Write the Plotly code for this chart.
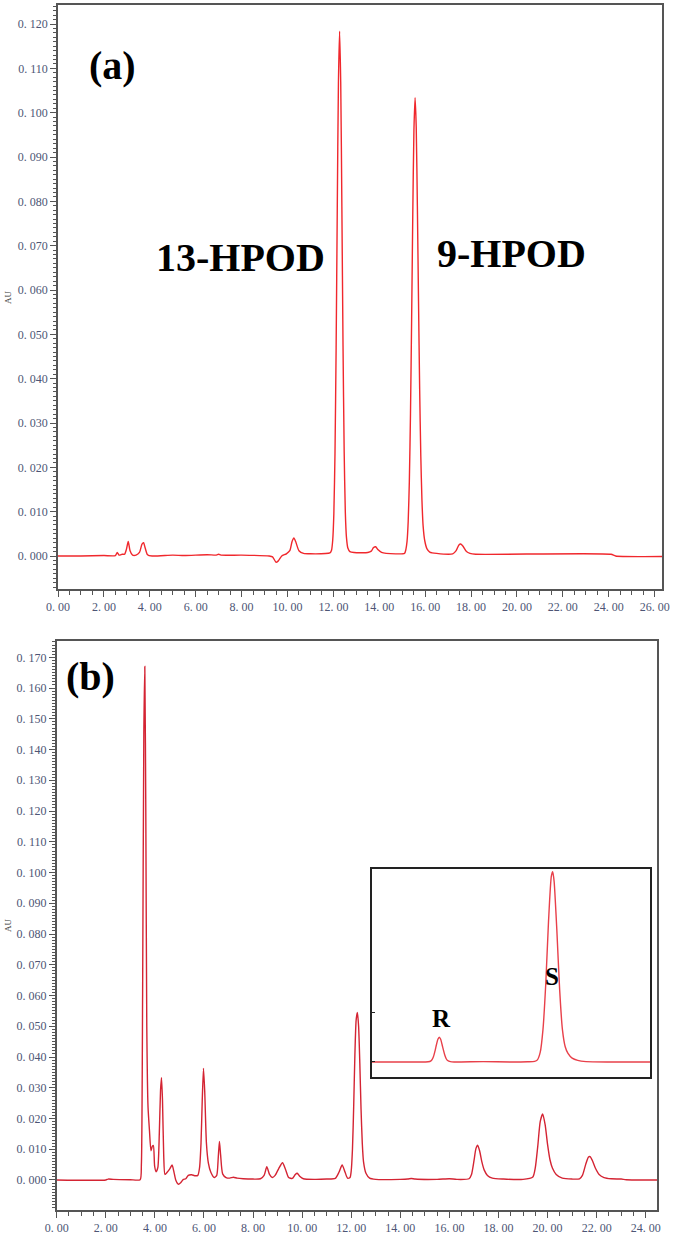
import plotly.graph_objects as go

# (a) HPOD isomer chromatogram: retention time (min) vs absorbance (AU)
time_a = [0.0, 1.0, 2.0, 2.5, 2.58, 2.66, 2.8, 2.9, 2.98, 3.06, 3.14, 3.25, 3.4, 3.55, 3.66, 3.73,
          3.8, 3.9, 4.1, 5.0, 5.5, 6.5, 6.9, 7.0, 7.1, 8.0, 9.2, 9.35, 9.5, 9.6, 9.75, 9.95,
          10.1, 10.2, 10.28, 10.36, 10.5, 10.7, 11.0, 11.85, 11.92, 11.97, 12.02, 12.07, 12.12,
          12.17, 12.22, 12.27, 12.32, 12.37, 12.42, 12.47, 12.52, 12.57, 12.63, 12.72, 12.9,
          13.5, 13.65, 13.75, 13.84, 13.95, 14.1, 14.3, 15.1, 15.16, 15.21, 15.26, 15.31, 15.36,
          15.41, 15.46, 15.51, 15.56, 15.61, 15.66, 15.71, 15.76, 15.81, 15.86, 15.91, 15.98,
          16.08, 16.2, 16.5, 17.2, 17.35, 17.47, 17.55, 17.65, 17.8, 17.95, 18.2, 24.1, 24.3, 26.32]
au_a = [0.0, 0.0, 0.0001, 0.0001, 0.0008, 0.0002, 0.0004, 0.0004, 0.0015, 0.0033, 0.0012, 0.0002,
        0.0002, 0.0008, 0.0027, 0.003, 0.0018, 0.0003, 0.0, 0.0002, 0.0001, 0.0003, 0.0002, 0.0004,
        0.0002, 0.0002, 0.0, -0.0002, -0.0014, -0.0011, 0.0, 0.0005, 0.0012, 0.0033, 0.0041, 0.0032,
        0.0012, 0.0006, 0.0005, 0.0007, 0.0013, 0.0035, 0.0095, 0.0231, 0.047, 0.0785, 0.1067,
        0.1184, 0.1069, 0.0788, 0.0475, 0.0236, 0.01, 0.0042, 0.0018, 0.001, 0.0008, 0.0008, 0.0011,
        0.0019, 0.0021, 0.0014, 0.0008, 0.0006, 0.0006, 0.0015, 0.0033, 0.0078, 0.0168, 0.0321,
        0.0534, 0.0771, 0.0961, 0.1034, 0.0968, 0.079, 0.0575, 0.0375, 0.0225, 0.0125, 0.0068,
        0.0035, 0.0016, 0.0009, 0.0006, 0.0005, 0.0012, 0.0025, 0.0027, 0.0022, 0.001, 0.0006,
        0.0004, 0.0004, 0.0, -0.0001]

# (b) product chromatogram
time_b = [0.0, 2.0, 2.1, 2.3, 3.0, 3.4, 3.45, 3.5, 3.55, 3.59, 3.63, 3.67, 3.72, 3.78, 3.84, 3.9,
          3.94, 3.99, 4.05, 4.12, 4.18, 4.23, 4.27, 4.31, 4.36, 4.41, 4.5, 4.6, 4.7, 4.78, 4.85,
          4.96, 5.06, 5.16, 5.26, 5.36, 5.5, 5.62, 5.75, 5.82, 5.88, 5.93, 5.98, 6.03, 6.1, 6.18,
          6.28, 6.42, 6.52, 6.58, 6.63, 6.68, 6.76, 6.9, 7.05, 7.2, 7.35, 7.6, 8.0, 8.3, 8.45,
          8.56, 8.67, 8.78, 8.9, 9.05, 9.2, 9.32, 9.45, 9.6, 9.72, 9.8, 9.9, 10.05, 10.5, 11.0,
          11.35, 11.5, 11.63, 11.75, 11.85, 11.95, 12.0, 12.05, 12.1, 12.15, 12.2, 12.25, 12.3,
          12.35, 12.4, 12.45, 12.5, 12.6, 12.75, 13.0, 14.0, 14.3, 14.45, 14.6, 15.5, 16.0, 16.3,
          16.8, 16.9, 17.0, 17.08, 17.15, 17.23, 17.32, 17.42, 17.55, 17.75, 18.2, 19.0, 19.4,
          19.5, 19.6, 19.7, 19.8, 19.9, 20.0, 20.1, 20.2, 20.35, 20.6, 21.0, 21.3, 21.42, 21.55,
          21.66, 21.73, 21.82, 21.95, 22.1, 22.3, 22.6, 23.0, 23.2, 24.0, 24.47]
au_b = [0.0, 0.0, 0.0003, 0.0002, 0.0001, 0.0001, 0.005, 0.06, 0.145, 0.167, 0.12, 0.05, 0.024,
        0.016, 0.0095, 0.011, 0.0112, 0.0045, 0.0027, 0.004, 0.015, 0.029, 0.0333, 0.026, 0.008,
        0.0018, 0.0025, 0.0035, 0.0049, 0.0025, 0.0, -0.0014, -0.0008, 0.0002, 0.0004, 0.0015,
        0.0017, 0.0014, 0.0015, 0.004, 0.012, 0.026, 0.0363, 0.029, 0.012, 0.0055, 0.0025, 0.0008,
        0.0015, 0.007, 0.0125, 0.008, 0.002, 0.0008, 0.0006, 0.0009, 0.0006, 0.0004, 0.0003,
        0.0004, 0.0015, 0.0043, 0.0018, 0.0008, 0.0015, 0.0038, 0.0056, 0.0035, 0.0008, 0.0005,
        0.0018, 0.0022, 0.0012, 0.0004, 0.0002, 0.0003, 0.0005, 0.0025, 0.0049, 0.0025, 0.0006,
        0.0008, 0.003, 0.01, 0.024, 0.041, 0.052, 0.0545, 0.05, 0.038, 0.023, 0.012, 0.006,
        0.0022, 0.0006, 0.0002, 0.0002, 0.0003, 0.0005, 0.0003, 0.0002, 0.0004, 0.0002, 0.0004,
        0.0018, 0.0062, 0.0102, 0.0113, 0.0095, 0.006, 0.0032, 0.0015, 0.0006, 0.0003, 0.0002,
        0.001, 0.004, 0.011, 0.019, 0.0215, 0.018, 0.0115, 0.0065, 0.0038, 0.0018, 0.0006, 0.0003,
        0.0004, 0.0015, 0.005, 0.0074, 0.0076, 0.0064, 0.0038, 0.0018, 0.0008, 0.0004, 0.0003,
        0.0001, 0.0, 0.0]

# inset: chiral separation of R / S (relative units)
time_inset = [0.0, 1.5, 2.02, 2.12, 2.17, 2.22, 2.27, 2.32, 2.37, 2.42, 2.47, 2.52, 2.57, 2.62,
              2.67, 2.72, 2.82, 2.95, 4.0, 5.0, 5.6, 5.85, 5.95, 6.05, 6.15, 6.25, 6.35, 6.45,
              6.5, 6.55, 6.65, 6.75, 6.85, 6.95, 7.05, 7.2, 7.4, 7.7, 8.5, 10.0]
signal_inset = [0.0, 0.0, 0.001, 0.006, 0.015, 0.032, 0.06, 0.092, 0.119, 0.13, 0.119, 0.092,
                0.062, 0.035, 0.017, 0.008, 0.002, 0.0, 0.002, 0.0, 0.001, 0.003, 0.011, 0.05,
                0.17, 0.41, 0.74, 0.975, 1.0, 0.95, 0.69, 0.38, 0.17, 0.08, 0.045, 0.02, 0.008,
                0.002, 0.0, 0.0]

yticks_a = [0.0, 0.01, 0.02, 0.03, 0.04, 0.05, 0.06, 0.07, 0.08, 0.09, 0.1, 0.11, 0.12]
ylabels_a = ["0. 000", "0. 010", "0. 020", "0. 030", "0. 040", "0. 050", "0. 060",
             "0. 070", "0. 080", "0. 090", "0. 100", "0. 110", "0. 120"]
yticks_b = [0.0, 0.01, 0.02, 0.03, 0.04, 0.05, 0.06, 0.07, 0.08, 0.09, 0.1, 0.11, 0.12,
            0.13, 0.14, 0.15, 0.16, 0.17]
ylabels_b = ["0. 000", "0. 010", "0. 020", "0. 030", "0. 040", "0. 050", "0. 060",
             "0. 070", "0. 080", "0. 090", "0. 100", "0. 110", "0. 120", "0. 130",
             "0. 140", "0. 150", "0. 160", "0. 170"]
xticks_a = [0, 2, 4, 6, 8, 10, 12, 14, 16, 18, 20, 22, 24, 26]
xlabels_a = ["0. 00", "2. 00", "4. 00", "6. 00", "8. 00", "10. 00", "12. 00", "14. 00",
             "16. 00", "18. 00", "20. 00", "22. 00", "24. 00", "26. 00"]
xticks_b = [0, 2, 4, 6, 8, 10, 12, 14, 16, 18, 20, 22, 24]
xlabels_b = ["0. 00", "2. 00", "4. 00", "6. 00", "8. 00", "10. 00", "12. 00", "14. 00",
             "16. 00", "18. 00", "20. 00", "22. 00", "24. 00"]

W, H = 675, 1234
tick_font = dict(family="Liberation Serif", size=12, color="#4d5575")
axis_col = "#555555"

fig = go.Figure()
fig.add_trace(go.Scatter(x=time_a, y=au_a, mode="lines", xaxis="x", yaxis="y",
                         line=dict(color="#f0282d", width=1.4, shape="spline", smoothing=0.6)))
fig.add_trace(go.Scatter(x=time_b, y=au_b, mode="lines", xaxis="x2", yaxis="y2",
                         line=dict(color="#d42433", width=1.4, shape="spline", smoothing=0.6)))
fig.add_trace(go.Scatter(x=time_inset, y=signal_inset, mode="lines", xaxis="x3", yaxis="y3",
                         line=dict(color="#e8404a", width=1.4, shape="spline", smoothing=0.6)))


def px_x(v):
    return v / W


def px_y(v):
    return 1 - v / H


def main_x(dom, rng, vals, text):
    return dict(domain=dom, range=rng, tickmode="array", tickvals=vals, ticktext=text,
                ticks="outside", ticklen=6, tickwidth=1.2, tickcolor=axis_col,
                minor=dict(tickmode="linear", tick0=0, dtick=0.5, ticks="outside",
                           ticklen=4, tickwidth=1, tickcolor=axis_col),
                showline=True, linecolor=axis_col, linewidth=1.5, mirror=True,
                showgrid=False, zeroline=False, tickfont=tick_font, automargin=False)


def main_y(dom, rng, vals, text, anchor):
    return dict(domain=dom, range=rng, anchor=anchor, tickmode="array", tickvals=vals,
                ticktext=text, ticks="outside", ticklen=6, tickwidth=1.2, tickcolor=axis_col,
                minor=dict(tickmode="linear", tick0=0, dtick=0.001, ticks="outside",
                           ticklen=3, tickwidth=1, tickcolor=axis_col),
                showline=True, linecolor=axis_col, linewidth=1.5, mirror=True,
                showgrid=False, zeroline=False, tickfont=tick_font, automargin=False)


fig.update_layout(
    width=W, height=H,
    margin=dict(l=0, r=0, t=0, b=0),
    paper_bgcolor="white", plot_bgcolor="white",
    showlegend=False,
    xaxis=main_x([px_x(58), px_x(662)], [0, 26.32], xticks_a, xlabels_a) | dict(anchor="y"),
    yaxis=main_y([px_y(589), px_y(5)], [-0.00744, 0.12429], yticks_a, ylabels_a, "x"),
    xaxis2=main_x([px_x(56.7), px_x(657.3)], [0, 24.47], xticks_b, xlabels_b) | dict(anchor="y2"),
    yaxis2=main_y([px_y(1210), px_y(640.7)], [-0.00976, 0.1754], yticks_b, ylabels_b, "x2"),
    xaxis3=dict(domain=[px_x(372), px_x(650)], range=[0, 10], anchor="y3",
                showline=True, linecolor="#222222", linewidth=1.5, mirror=True,
                showticklabels=False, ticks="", showgrid=False, zeroline=False),
    yaxis3=dict(domain=[px_y(1077), px_y(869)], range=[-0.079, 1.014], anchor="x3",
                showline=True, linecolor="#222222", linewidth=1.5, mirror=True,
                showticklabels=False, tickmode="array", tickvals=[0, 0.26], ticks="inside",
                ticklen=3, tickcolor="#222222", showgrid=False, zeroline=False),
)

notes = [
    ("<b>(a)</b>", 113, 65, 40),
    ("<b>13-HPOD</b>", 240, 257, 40),
    ("<b>9-HPOD</b>", 511, 253, 40),
    ("<b>(b)</b>", 91, 676, 40),
    ("<b>R</b>", 441, 1018, 25),
    ("<b>S</b>", 552, 976, 25),
]
for txt, x, y, size in notes:
    fig.add_annotation(x=px_x(x), y=px_y(y), xref="paper", yref="paper", text=txt,
                       showarrow=False, xanchor="center", yanchor="middle",
                       font=dict(family="Liberation Serif", size=size, color="black"))

for y in (297, 925):
    fig.add_annotation(x=px_x(8), y=px_y(y), xref="paper", yref="paper", text="AU",
                       showarrow=False, textangle=-90, xanchor="center", yanchor="middle",
                       font=dict(family="Liberation Serif", size=9, color="#333333"))

# page body has a default margin; remove it so the figure sits at the window origin
fig.write_html("out.html", config={"displayModeBar": False},
               post_script="document.body.style.margin='0';")
